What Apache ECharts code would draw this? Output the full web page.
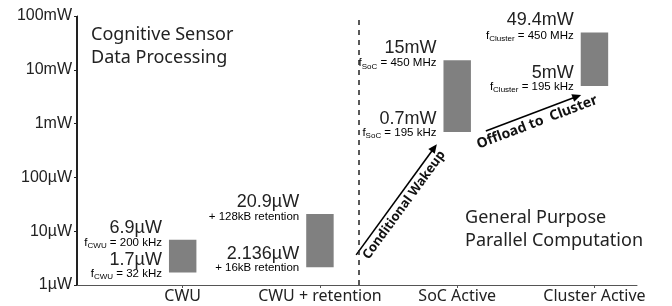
<!DOCTYPE html>
<html>
<head>
<meta charset="utf-8">
<script src="https://cdn.jsdelivr.net/npm/echarts@6/dist/echarts.min.js"></script>
<style>
  html, body { margin: 0; padding: 0; background: #fff; }
  #main { width: 672px; height: 306px; }
</style>
</head>
<body>
<div id="main"></div>
<script>
// power figures in µW
var categories = ['CWU', 'CWU + retention', 'SoC Active', 'Cluster Active'];
var lowPower = [1.7, 2.136, 700, 5000];
var highPower = [6.9, 20.9, 15000, 49400];
var highLabels = ['6.9µW', '20.9µW', '15mW', '49.4mW'];
var lowLabels = ['1.7µW', '2.136µW', '0.7mW', '5mW'];
var highNotes = [
    '{f|f}{s|CWU}{t| = 200 kHz}',
    '{t|+ 128kB retention}',
    '{f|f}{s|SoC}{t| = 450 MHz}',
    '{f|f}{s|Cluster}{t| = 450 MHz}'
];
var lowNotes = [
    '{f|f}{s|CWU}{t| = 32 kHz}',
    '{t|+ 16kB retention}',
    '{f|f}{s|SoC}{t| = 195 kHz}',
    '{f|f}{s|Cluster}{t| = 195 kHz}'
];
var yTickNames = { 1: '1µW', 10: '10µW', 100: '100µW', 1000: '1mW', 10000: '10mW', 100000: '100mW' };

var FONT = 'Noto Sans';
var NUMFONT = 'Liberation Sans';
var TXT = '#222';
// x runs from 0 so the y axis line sits on the left edge
var X_SHIFT = 0.77, X_MAX = 4.08;
var catPos = categories.map(function (c, i) { return i + X_SHIFT; });

var noteRich = {
    f: { fontSize: 11.5, fontFamily: NUMFONT, color: TXT, lineHeight: 14, verticalAlign: 'middle' },
    s: { fontSize: 8, fontFamily: NUMFONT, color: TXT, lineHeight: 14, verticalAlign: 'bottom', padding: [5, 0, 0, 0] },
    t: { fontSize: 11.5, fontFamily: NUMFONT, color: TXT, lineHeight: 14, verticalAlign: 'middle' }
};

var seriesData = categories.map(function (c, i) {
    return [catPos[i], lowPower[i], highPower[i]];
});

function arrow(cx, cy, len, angle, label, size) {
    return {
        type: 'group',
        x: cx, y: cy,
        rotation: angle,
        children: [
            { type: 'line', shape: { x1: -len / 2, y1: 0, x2: len / 2 - 6, y2: 0 }, style: { stroke: '#000', lineWidth: 1.6 } },
            { type: 'polygon', shape: { points: [[len / 2, 0], [len / 2 - 9, -4], [len / 2 - 9, 4]] }, style: { fill: '#000' } },
            { type: 'text', x: 0, y: 3, style: { text: label, font: 'bold ' + size + 'px ' + FONT, fill: '#111', align: 'center', verticalAlign: 'top' } }
        ]
    };
}

var graphics = [
    { type: 'text', left: 91, top: 23, style: { text: 'Cognitive Sensor\nData Processing', font: '18px ' + FONT, fill: TXT, lineHeight: 23 } },
    { type: 'text', right: 29, top: 206, style: { text: 'General Purpose\nParallel Computation', font: '18px ' + FONT, fill: TXT, lineHeight: 23, align: 'right' } },
    arrow(396.5, 199.5, 137, 0.941, 'Conditional Wakeup', 13),
    arrow(533.5, 113, 102, 0.363, 'Offload to  Cluster', 14)
];

var chart = echarts.init(document.getElementById('main'));
chart.setOption({
    backgroundColor: '#fff',
    animation: false,
    grid: { left: 77, right: 35, top: 16, bottom: 21 },
    xAxis: {
        type: 'value',
        min: 0,
        max: X_MAX,
        splitLine: { show: false },
        axisLine: { show: true, onZero: false, lineStyle: { color: '#555', width: 1 } },
        axisTick: { show: true, customValues: catPos, length: 3, lineStyle: { color: '#555' } },
        axisLabel: {
            customValues: catPos,
            margin: 3,
            fontSize: 16,
            fontFamily: FONT,
            color: TXT,
            formatter: function (v) { return categories[Math.round(v - X_SHIFT)]; }
        }
    },
    yAxis: {
        type: 'log',
        min: 1,
        max: 100000,
        splitLine: { show: false },
        axisLine: { show: true, lineStyle: { color: '#222', width: 1 } },
        axisTick: { show: true, length: 3, lineStyle: { color: '#222' } },
        axisLabel: {
            margin: 5,
            fontSize: 16,
            fontFamily: NUMFONT,
            color: TXT,
            formatter: function (v) { return yTickNames[Math.round(v)] || ''; }
        }
    },
    series: [{
        type: 'custom',
        data: seriesData,
        encode: { x: 0, y: [1, 2] },
        renderItem: function (params, api) {
            var i = params.dataIndex;
            var top = api.coord([api.value(0), api.value(2)]);
            var bot = api.coord([api.value(0), api.value(1)]);
            var w = api.size([0.2, 0])[0];
            var left = top[0] - w / 2;
            var tx = left - 7;
            return {
                type: 'group',
                children: [
                    { type: 'rect', shape: { x: left, y: top[1], width: w, height: bot[1] - top[1] }, style: { fill: '#808080' } },
                    { type: 'text', x: tx, y: top[1] - 12, style: { text: highLabels[i], font: '18px ' + NUMFONT, fill: TXT, align: 'right', verticalAlign: 'middle' } },
                    { type: 'text', x: tx, y: top[1] + 3, style: { text: highNotes[i], rich: noteRich, align: 'right', verticalAlign: 'middle' } },
                    { type: 'text', x: tx, y: bot[1] - 13, style: { text: lowLabels[i], font: '18px ' + NUMFONT, fill: TXT, align: 'right', verticalAlign: 'middle' } },
                    { type: 'text', x: tx, y: bot[1] + 1, style: { text: lowNotes[i], rich: noteRich, align: 'right', verticalAlign: 'middle' } }
                ]
            };
        },
        markLine: {
            silent: true,
            symbol: ['none', 'none'],
            label: { show: false },
            lineStyle: { color: '#222', type: [5, 5], width: 1.5 },
            data: [{ xAxis: 1.285 + X_SHIFT }]
        }
    }],
    graphic: graphics
});

// left spine from the axis scale, drawn on top in case the axis line gets hidden
var pBot = chart.convertToPixel({ gridIndex: 0 }, [0, 1]);
var pTop = chart.convertToPixel({ gridIndex: 0 }, [0, 100000]);
var sx = Math.round(pBot[0]) - 0.5;
chart.setOption({
    graphic: graphics.concat([{
        type: 'line', z: 100,
        shape: { x1: sx, y1: pBot[1], x2: sx, y2: pTop[1] },
        style: { stroke: '#222', lineWidth: 1 }
    }])
});
</script>
</body>
</html>
